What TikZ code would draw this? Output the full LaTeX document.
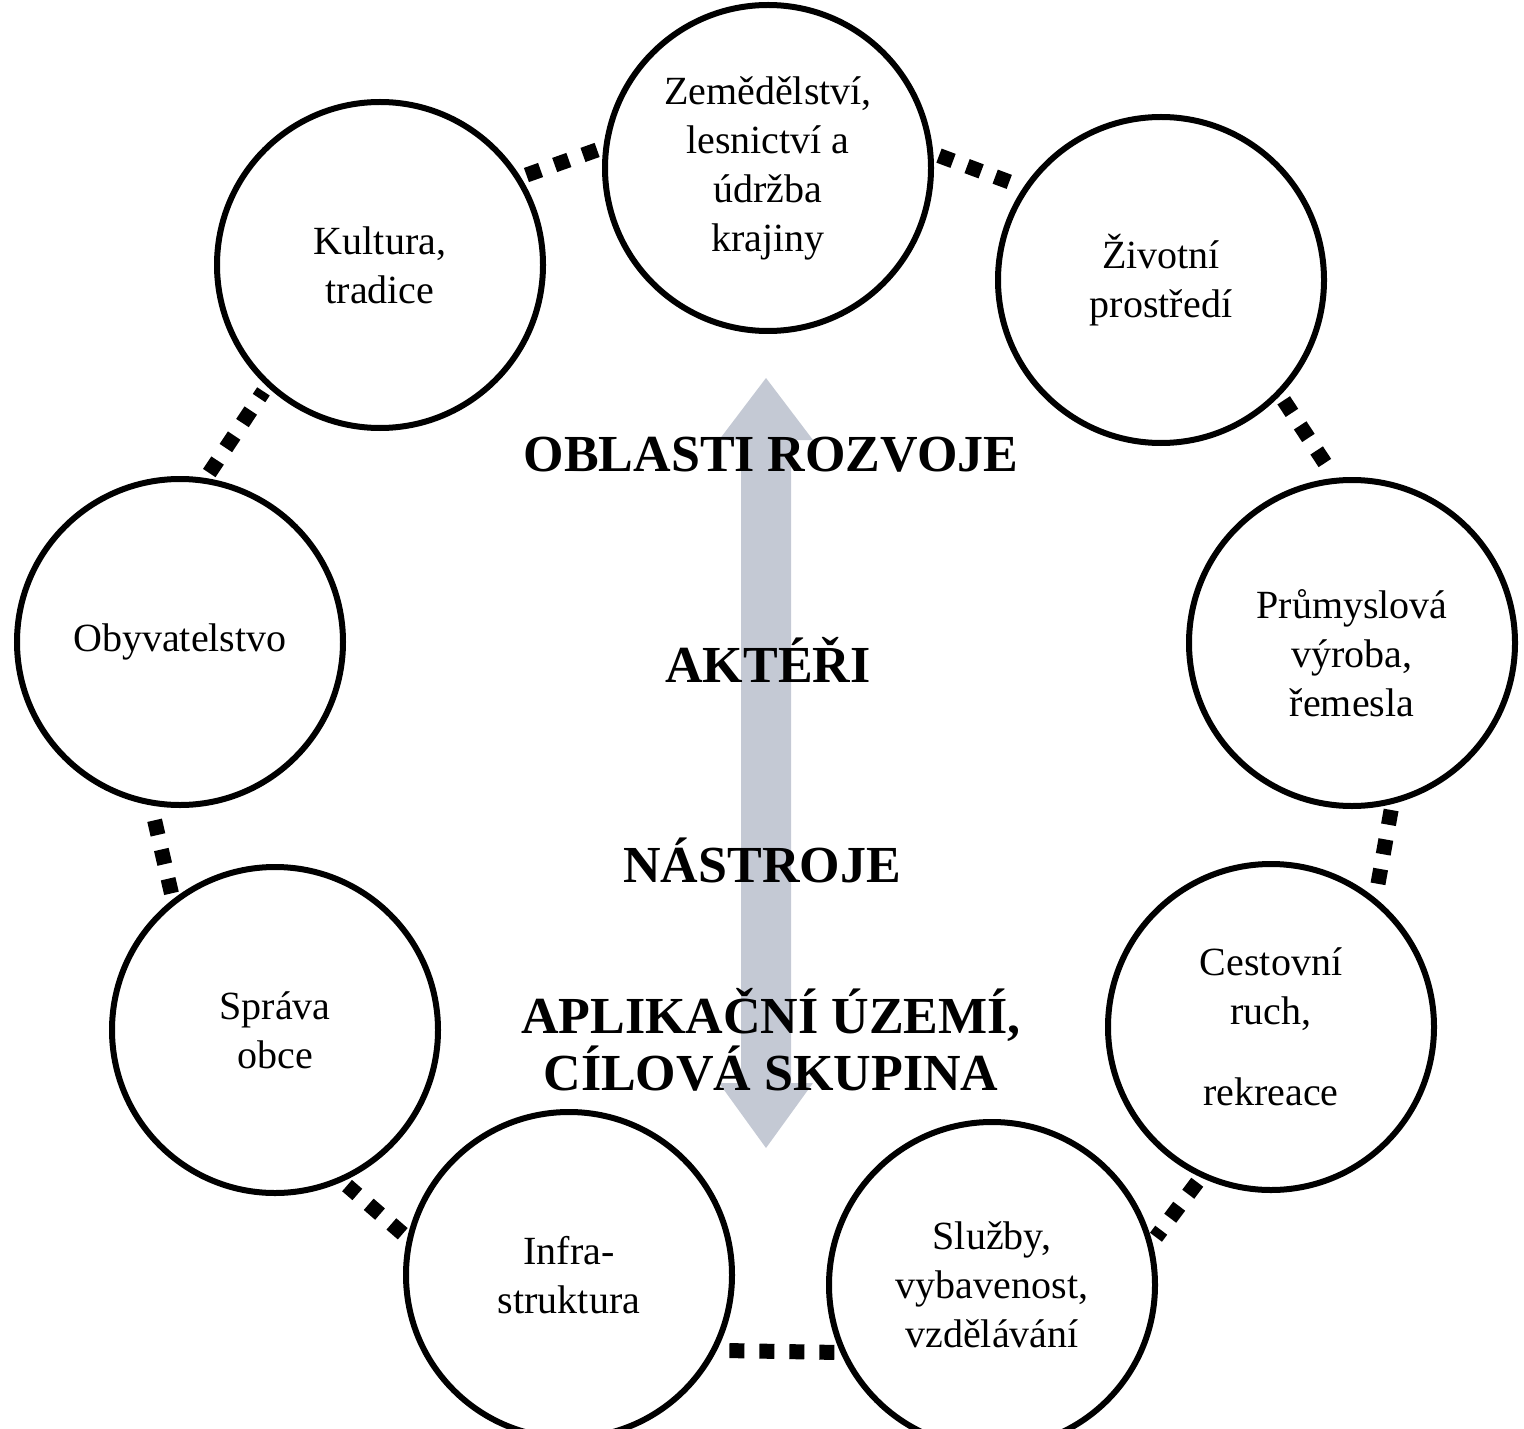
\documentclass[tikz,border=0pt]{standalone}
\usepackage{fontspec}
\setmainfont{Liberation Serif}
\usetikzlibrary{positioning}
\definecolor{sipka}{RGB}{196,201,212}
\tikzset{
    % Define dotted connector style
    spoj/.style={
           line width=7.5pt,
           dash pattern=on 7.5pt off 7.5pt,
           shorten <=3pt,
           shorten >=3pt,}
}
\begin{document}
\begin{tikzpicture}[x=0.5pt,y=-0.5pt,
roundnode/.style={circle, draw=black, line width=3pt, minimum size=163pt,
  inner sep=0pt, align=center, font=\fontsize{20}{24.5}\selectfont},
title/.style={align=center, font=\fontsize{26}{28.5}\selectfont\bfseries},
]
\useasboundingbox (0,0) rectangle (1524,1428);

%Arrow
\fill[sipka] (741,440) -- (719,440) -- (766,378) -- (813,440) -- (791,440)
  -- (791,1083) -- (813,1083) -- (766,1148) -- (719,1083) -- (741,1083) -- cycle;

%Nodes
\node[roundnode](zem) at (768,168) {Zemědělství,\\lesnictví a\\údržba\\krajiny};
\node[roundnode](ziv) at (1161,280) {Životní\\prostředí};
\node[roundnode](prum) at (1352,643) {\mbox{}\\Průmyslová\\výroba,\\řemesla};
\node[roundnode](cest) at (1271,1027) {Cestovní\\ruch,\\[16pt]rekreace};
\node[roundnode](sluz) at (992,1285) {Služby,\\vybavenost,\\vzdělávání};
\node[roundnode](infra) at (569,1275) {Infra-\\struktura};
\node[roundnode](sprava) at (275,1030) {Správa\\obce};
\node[roundnode](obyv) at (180,642) {Obyvatelstvo};
\node[roundnode](kult) at (380,265) {Kultura,\\tradice};

\node[title](obl) at (771,455) {OBLASTI ROZVOJE};
\node[title](akt) at (768,660) {AKTÉŘI};
\node[title](nas) at (762,860) {NÁSTROJE};
\node[title](apl) at (771,1040) {APLIKAČNÍ ÚZEMÍ,\\CÍLOVÁ SKUPINA};

%Connectors
\draw[spoj] (kult.32) -- (zem.173);
\draw[spoj] (zem.5) -- (ziv.146);
\draw[spoj] (ziv.-44) -- (prum.96);
\draw[spoj] (prum.-76) -- (cest.51);
\draw[spoj] (cest.-115) -- (sluz.15);
\draw[spoj] (sluz.204) -- (infra.-27);
\draw[spoj] (infra.167) -- (sprava.-66);
\draw[spoj] (sprava.128) -- (obyv.-100);
\draw[spoj] (obyv.81) -- (kult.-133);

\end{tikzpicture}
\end{document}
